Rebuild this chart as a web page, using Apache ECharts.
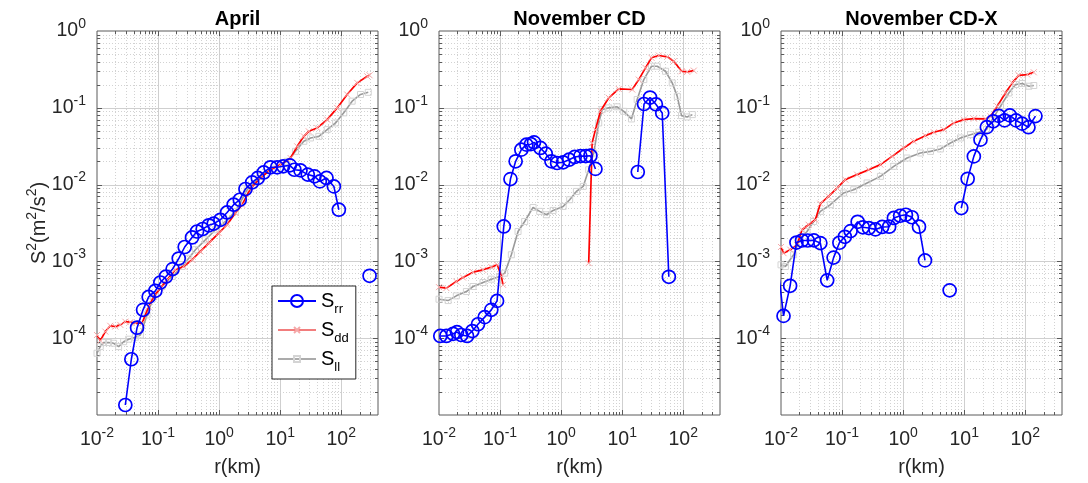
<!DOCTYPE html>
<html><head><meta charset="utf-8">
<script src="https://cdn.jsdelivr.net/npm/echarts@6/dist/echarts.min.js"></script>
<style>html,body{margin:0;padding:0;background:#fff}#c{width:1088px;height:483px}</style>
</head><body><div id="c"></div>
<script>
const panelTitles = ['April', 'November CD', 'November CD-X'];
const seriesNames = ['Srr', 'Sdd', 'Sll'];
const seriesSubs = {Srr: 'rr', Sdd: 'dd', Sll: 'll'};
const xMajor = [0.01, 0.1, 1, 10, 100];
const yMajor = [1e-5, 1e-4, 1e-3, 1e-2, 1e-1, 1];
const minorSteps = [2, 3, 4, 5, 6, 7, 8, 9];
const xRange = [0.01, 400];
const yRange = [1e-5, 1];

// ---- April ----
const aprilRr = [[0.0291,1.35e-5],[0.0365,5.32e-5],[0.0453,1.37e-4],[0.0568,2.34e-4],[0.0702,3.45e-4],[0.0904,4.14e-4],[0.109,5.31e-4],[0.135,6.35e-4],[0.173,7.94e-4],[0.218,1.09e-3],[0.273,1.54e-3],[0.360,2.05e-3],[0.435,2.45e-3],[0.538,2.64e-3],[0.676,2.95e-3],[0.815,3.1e-3],[1.05,3.48e-3],[1.35,4.34e-3],[1.73,5.47e-3],[2.18,6.35e-3],[2.70,8.77e-3],[3.48,1.07e-2],[4.30,1.22e-2],[5.38,1.44e-2],[6.93,1.68e-2],[8.93,1.68e-2],[11.2,1.73e-2],[14.4,1.78e-2],[17.1,1.56e-2],[21.5,1.53e-2],[28.3,1.35e-2],[36.5,1.28e-2],[44.6,1.10e-2],[57.4,1.22e-2],[75.7,9.47e-3],[91.4,4.71e-3],[150,null],[291,6.49e-4]];
const aprilDd = [[0.01,1.10e-4],[0.0113,9.3e-5],[0.0137,1.22e-4],[0.0165,1.45e-4],[0.020,1.42e-4],[0.0241,1.49e-4],[0.0291,1.64e-4],[0.0352,1.62e-4],[0.0425,1.57e-4],[0.0547,1.57e-4],[0.0702,2.58e-4],[0.0848,3.48e-4],[0.109,4.49e-4],[0.141,5.75e-4],[0.192,7.77e-4],[0.263,8.58e-4],[0.361,1.05e-3],[0.493,1.35e-3],[0.676,1.73e-3],[0.984,2.34e-3],[1.35,3.0e-3],[1.85,4.26e-3],[2.38,5.47e-3],[3.26,8.85e-3],[4.75,1.22e-2],[6.93,1.56e-2],[10.1,1.82e-2],[14.8,2.22e-2],[19.0,3.15e-2],[24.4,4.25e-2],[29.4,4.94e-2],[40.4,5.47e-2],[58.9,7.02e-2],[85.9,9.97e-2],[125,0.149],[183,0.211],[267,0.257],[291,0.265]];
const aprilLl = [[0.01,6.37e-5],[0.0113,7.77e-5],[0.0128,8.77e-5],[0.0155,8.77e-5],[0.0187,8.6e-5],[0.0226,7.77e-5],[0.0273,9.0e-5],[0.0330,9.7e-5],[0.0425,1.03e-4],[0.0513,1.10e-4],[0.066,2.01e-4],[0.0848,3.48e-4],[0.116,4.71e-4],[0.170,6.35e-4],[0.247,8.58e-4],[0.318,1.10e-3],[0.409,1.42e-3],[0.596,1.91e-3],[0.869,2.58e-3],[1.27,3.31e-3],[1.85,4.48e-3],[2.88,8.57e-3],[4.75,1.28e-2],[7.85,1.64e-2],[13.0,2.01e-2],[17.8,2.71e-2],[24.4,3.66e-2],[31.4,4.05e-2],[43.0,4.25e-2],[58.9,5.2e-2],[80.7,6.35e-2],[110,8.59e-2],[151,0.122],[207,0.149],[277,0.159]];

// ---- November CD ----
const novRr = [[0.0105,1.07e-4],[0.0132,1.07e-4],[0.0170,1.14e-4],[0.0197,1.20e-4],[0.0232,1.10e-4],[0.0288,1.07e-4],[0.0352,1.24e-4],[0.0435,1.52e-4],[0.0560,1.88e-4],[0.0719,2.34e-4],[0.0893,3.06e-4],[0.115,2.85e-3],[0.148,1.18e-2],[0.180,2.01e-2],[0.223,2.85e-2],[0.270,3.31e-2],[0.320,3.36e-2],[0.360,3.55e-2],[0.458,3.0e-2],[0.560,2.53e-2],[0.694,2.01e-2],[0.859,1.91e-2],[1.08,1.95e-2],[1.35,2.11e-2],[1.67,2.29e-2],[2.07,2.35e-2],[2.53,2.35e-2],[3.02,2.38e-2],[3.65,1.60e-2],[8,null],[18.0,1.46e-2],[22.8,0.112],[28.6,0.136],[35.6,0.111],[45.3,8.58e-2],[58.1,6.30e-4]];
const novDd = [[0.01,4.62e-4],[0.0132,4.49e-4],[0.0192,5.47e-4],[0.0247,6.17e-4],[0.0361,7.25e-4],[0.0526,7.77e-4],[0.0720,8.43e-4],[0.0903,9.03e-4],[0.105,6.35e-4],[0.112,4.95e-4],[0.5,null],[2.83,9.5e-4],[3.22,3.48e-2],[3.65,5.2e-2],[4.40,9.0e-2],[6.03,0.135],[8.79,0.176],[14.6,0.173],[18.7,0.233],[24.1,0.331],[30.2,0.448],[39.8,0.480],[54.7,0.461],[70.2,0.404],[93.8,0.299],[116,0.294],[149,0.305]];
const novLl = [[0.01,3.22e-4],[0.0141,3.09e-4],[0.0192,3.56e-4],[0.0281,4.05e-4],[0.0361,4.71e-4],[0.0526,5.31e-4],[0.072,5.87e-4],[0.0985,6.35e-4],[0.119,7.03e-4],[0.153,1.22e-3],[0.197,2.45e-3],[0.253,3.31e-3],[0.347,5.04e-3],[0.446,4.48e-3],[0.574,4.05e-3],[0.739,4.61e-3],[1.08,5.2e-3],[1.38,6.35e-3],[1.78,8.15e-3],[2.30,9.48e-3],[2.83,1.56e-2],[3.42,2.58e-2],[4.13,6.35e-2],[4.70,9.48e-2],[6.03,9.97e-2],[8.28,0.103],[10.6,9.0e-2],[14.2,7.16e-2],[17.6,0.128],[22.6,0.233],[30.2,0.348],[37.5,0.348],[51.3,0.299],[66.0,0.211],[79.8,0.141],[93.8,7.91e-2],[116,7.6e-2],[141,8.15e-2]];

// ---- November CD-X ----
const cdxRr = [[0.009,7.9e-4],[0.0110,1.95e-4],[0.0141,4.81e-4],[0.0179,1.76e-3],[0.0221,1.87e-3],[0.0273,1.87e-3],[0.0345,1.88e-3],[0.0441,1.73e-3],[0.0571,5.67e-4],[0.0727,1.12e-3],[0.0904,1.75e-3],[0.111,2.09e-3],[0.138,2.48e-3],[0.180,3.28e-3],[0.219,2.78e-3],[0.275,2.72e-3],[0.352,2.61e-3],[0.454,2.81e-3],[0.591,2.83e-3],[0.706,3.68e-3],[0.895,3.93e-3],[1.11,4.05e-3],[1.39,3.76e-3],[1.82,2.83e-3],[2.28,1.03e-3],[3.5,null],[5.78,4.2e-4],[7,null],[8.96,4.95e-3],[11.4,1.19e-2],[14.4,2.33e-2],[18.5,3.85e-2],[23.5,5.6e-2],[29.9,6.67e-2],[36.9,7.84e-2],[45.8,6.85e-2],[56.0,7.96e-2],[70.6,6.85e-2],[88.7,6.22e-2],[113,5.59e-2],[147,7.8e-2]];
const cdxDd = [[0.01,1.54e-3],[0.0110,1.28e-3],[0.0142,1.42e-3],[0.0183,1.64e-3],[0.0221,2.58e-3],[0.0283,3.0e-3],[0.0365,3.49e-3],[0.0441,5.64e-3],[0.0603,7.02e-3],[0.0828,9.03e-3],[0.113,1.16e-2],[0.176,1.35e-2],[0.273,1.56e-2],[0.425,1.82e-2],[0.660,2.33e-2],[1.02,3.0e-2],[1.49,3.66e-2],[2.32,4.34e-2],[3.18,4.8e-2],[4.63,5.2e-2],[6.76,6.35e-2],[9.85,7.02e-2],[14.4,7.23e-2],[22.3,7.16e-2],[27.0,7.75e-2],[34.8,0.105],[47.5,0.156],[61.2,0.211],[78.5,0.265],[108,0.271],[138,0.290]];
const cdxLl = [[0.01,9.03e-4],[0.0118,8.58e-4],[0.0161,1.22e-3],[0.0207,2.01e-3],[0.0267,2.45e-3],[0.0342,3.31e-3],[0.0441,4.48e-3],[0.0643,5.47e-3],[0.106,7.77e-3],[0.155,8.57e-3],[0.257,1.05e-2],[0.425,1.28e-2],[0.702,1.73e-2],[1.16,2.22e-2],[1.92,2.58e-2],[2.81,2.71e-2],[4.08,2.91e-2],[5.96,3.48e-2],[8.69,4.05e-2],[12.7,4.47e-2],[17.3,4.8e-2],[23.2,5.2e-2],[28.8,7.02e-2],[39.4,0.105],[53.8,0.156],[69.3,0.201],[89.3,0.207],[115,0.191],[138,0.195]];

const panelData = [
  {rr: aprilRr, dd: aprilDd, ll: aprilLl},
  {rr: novRr, dd: novDd, ll: novLl},
  {rr: cdxRr, dd: cdxDd, ll: cdxLl}
];

const FONT = '"Liberation Sans", Arial, Helvetica, sans-serif';
const TXT = '#262626';
const gridLefts = [97, 439, 781];
const GRID_TOP = 31, GRID_W = 281, GRID_H = 384;

function lineValues(major, range) {
  const out = [];
  major.forEach(m => {
    if (m > range[0] * 1.0001 && m < range[1] * 0.9999) out.push([m, 1]);
    minorSteps.forEach(k => {
      const v = m * k;
      if (v > range[0] * 1.0001 && v < range[1] * 0.9999) out.push([v, 0]);
    });
  });
  return out;
}
const xLineVals = lineValues(xMajor, xRange);
const yLineVals = lineValues(yMajor, yRange);

function gridRenderer(dir) {
  return function (params, api) {
    const cs = params.coordSys;
    const major = api.value(2) === 1;
    const pt = api.coord([api.value(0), api.value(1)]);
    const gridStroke = major ? '#cfcfcf' : '#d2d2d2';
    const dash = major ? null : [1, 2];
    const tl = major ? 5 : 3;
    const tc = '#5a5a5a';
    const els = [];
    if (dir === 'x') {
      const x = Math.round(pt[0]) + 0.5;
      const y0 = cs.y, y1 = cs.y + cs.height;
      els.push({type: 'line', shape: {x1: x, y1: y0, x2: x, y2: y1}, style: {stroke: gridStroke, lineWidth: 1, lineDash: dash}});
      els.push({type: 'line', shape: {x1: x, y1: y1, x2: x, y2: y1 - tl}, style: {stroke: tc, lineWidth: 1}});
      els.push({type: 'line', shape: {x1: x, y1: y0, x2: x, y2: y0 + tl}, style: {stroke: tc, lineWidth: 1}});
    } else {
      const y = Math.round(pt[1]) + 0.5;
      const x0 = cs.x, x1 = cs.x + cs.width;
      els.push({type: 'line', shape: {x1: x0, y1: y, x2: x1, y2: y}, style: {stroke: gridStroke, lineWidth: 1, lineDash: dash}});
      els.push({type: 'line', shape: {x1: x0, y1: y, x2: x0 + tl, y2: y}, style: {stroke: tc, lineWidth: 1}});
      els.push({type: 'line', shape: {x1: x1, y1: y, x2: x1 - tl, y2: y}, style: {stroke: tc, lineWidth: 1}});
    }
    return {type: 'group', children: els};
  };
}

const tickRich = {
  b: {fontSize: 19.5, lineHeight: 28, fontFamily: FONT, color: TXT},
  e: {fontSize: 14, verticalAlign: 'top', fontFamily: FONT, color: TXT}
};
const tickFormatter = v => '{b|10}{e|' + Math.round(Math.log10(v)) + '}';

const grids = [], xAxes = [], yAxes = [], series = [], graphics = [];
panelData.forEach((p, i) => {
  grids.push({left: gridLefts[i], top: GRID_TOP, width: GRID_W, height: GRID_H, show: true, borderColor: '#5a5a5a', borderWidth: 1, backgroundColor: '#fff'});
  xAxes.push({
    gridIndex: i, type: 'log', logBase: 10, min: xRange[0], max: xRange[1],
    axisLine: {show: false}, axisTick: {show: false}, splitLine: {show: false},
    axisLabel: {formatter: tickFormatter, rich: tickRich, margin: 11, showMinLabel: true, showMaxLabel: false},
    name: 'r(km)', nameLocation: 'middle', nameGap: 42,
    nameTextStyle: {fontSize: 20, fontFamily: FONT, color: TXT}
  });
  yAxes.push({
    gridIndex: i, type: 'log', logBase: 10, min: yRange[0], max: yRange[1],
    axisLine: {show: false}, axisTick: {show: false}, splitLine: {show: false},
    axisLabel: {formatter: tickFormatter, rich: tickRich, margin: 11, showMinLabel: false, showMaxLabel: true}
  });
  series.push({type: 'custom', xAxisIndex: i, yAxisIndex: i, silent: true, z: 1, animation: false,
    data: xLineVals.map(d => [d[0], 1e-3, d[1]]), encode: {x: 0, y: 1}, renderItem: gridRenderer('x')});
  series.push({type: 'custom', xAxisIndex: i, yAxisIndex: i, silent: true, z: 1, animation: false,
    data: yLineVals.map(d => [1, d[0], d[1]]), encode: {x: 0, y: 1}, renderItem: gridRenderer('y')});
  series.push({name: 'Sll', type: 'line', xAxisIndex: i, yAxisIndex: i, data: p.ll, z: 3,
    symbol: 'path://M-5,-5M15,15M0,0H10V10H0Z', symbolSize: 12, showSymbol: true, clip: true,
    lineStyle: {color: '#9a9a9a', width: 1.6},
    itemStyle: {color: 'rgba(0,0,0,0)', borderColor: '#d4d4d4', borderWidth: 1}, silent: true});
  series.push({name: 'Sdd', type: 'line', xAxisIndex: i, yAxisIndex: i, data: p.dd, z: 4,
    symbol: 'path://M-5,-5M15,15M0,0L10,10M10,0L0,10', symbolSize: 12, showSymbol: true, clip: true,
    lineStyle: {color: '#ff0000', width: 1.7},
    itemStyle: {color: 'rgba(0,0,0,0)', borderColor: '#f5a9a9', borderWidth: 1}, silent: true});
  series.push({name: 'Srr', type: 'line', xAxisIndex: i, yAxisIndex: i, data: p.rr, z: 5,
    symbol: 'circle', symbolSize: 13, showSymbol: true, clip: true, connectNulls: false,
    lineStyle: {color: '#0000ff', width: 1.6},
    itemStyle: {color: 'rgba(0,0,0,0)', borderColor: '#0000ff', borderWidth: 1.7}, silent: true});
  graphics.push({type: 'text', x: gridLefts[i] + GRID_W / 2, y: 19,
    style: {text: panelTitles[i], fontSize: 20, fontWeight: 'bold', fontFamily: FONT, fill: '#000', align: 'center', verticalAlign: 'middle'}});
});

graphics.push({type: 'text', x: 39, y: 223, rotation: Math.PI / 2,
  style: {
    text: '{m|S}{s|2}{m|(m}{s|2}{m|/s}{s|2}{m|)}',
    align: 'center', verticalAlign: 'middle', fill: TXT,
    rich: {
      m: {fontSize: 20, lineHeight: 28, fontFamily: FONT, fill: TXT},
      s: {fontSize: 14, verticalAlign: 'top', fontFamily: FONT, fill: TXT}
    }
  }});

const chart = echarts.init(document.getElementById('c'));
chart.setOption({
  animation: false,
  backgroundColor: '#fff',
  grid: grids, xAxis: xAxes, yAxis: yAxes, series: series, graphic: graphics,
  legend: {
    data: [
      {name: 'Srr'},
      {name: 'Sdd', lineStyle: {color: '#f27d7d'}},
      {name: 'Sll', lineStyle: {color: '#ababab'}}
    ],
    orient: 'vertical', left: 272, top: 286,
    backgroundColor: '#fff', borderColor: '#262626', borderWidth: 1,
    padding: [5, 7, 5, 5], itemWidth: 38, itemHeight: 15, itemGap: 4,
    selectedMode: false,
    formatter: name => '{s|S}{sub|' + seriesSubs[name] + '}',
    textStyle: {
      rich: {
        s: {fontSize: 20, lineHeight: 30, fontFamily: FONT, color: '#000'},
        sub: {fontSize: 13, verticalAlign: 'bottom', fontFamily: FONT, color: '#000'}
      }
    }
  }
});
</script></body></html>
